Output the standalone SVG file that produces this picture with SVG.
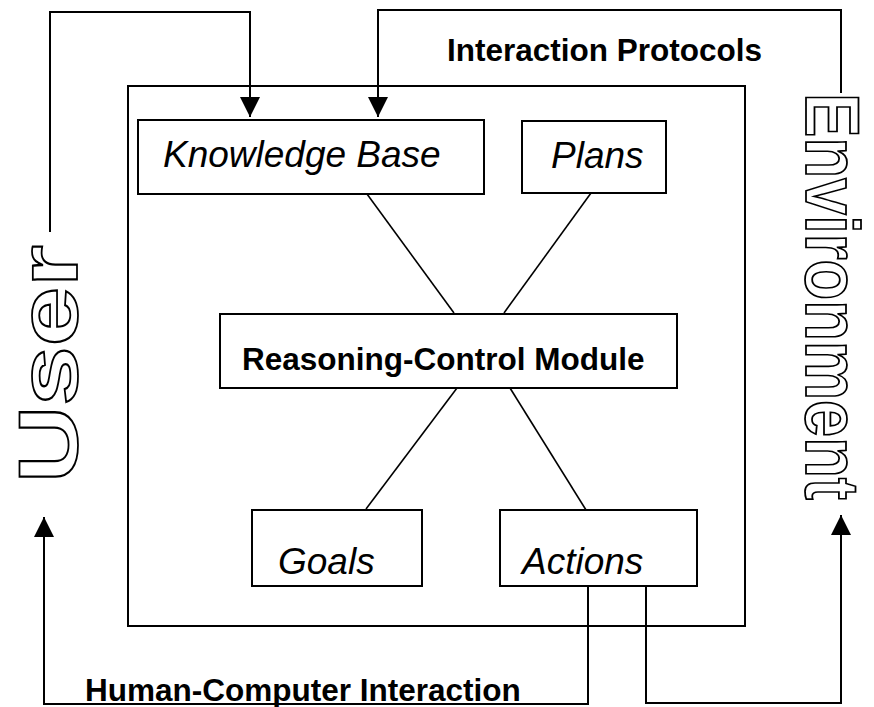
<svg xmlns="http://www.w3.org/2000/svg" width="874" height="707" viewBox="0 0 874 707">
<style>
.box{fill:#fff;stroke:#000;stroke-width:2}
.line{fill:none;stroke:#000;stroke-width:2}
.thin{fill:none;stroke:#000;stroke-width:1.6}
.lbl{font-family:"Liberation Sans",Arial,sans-serif;font-style:italic;font-size:37px;fill:#000}
.bold{font-family:"Liberation Sans",Arial,sans-serif;font-weight:bold;font-size:31.5px;fill:#000}
.wa{font-family:"Liberation Sans",Arial,sans-serif;font-weight:bold;fill:#fff;stroke:#000;stroke-width:1.8}
</style>
<defs>
<marker id="ah" viewBox="0 0 20 20" refX="20" refY="10" markerWidth="20" markerHeight="20" markerUnits="userSpaceOnUse" orient="auto">
<path d="M0,0 L20,10 L0,20 Z" fill="#000"/>
</marker>
</defs>
<rect width="874" height="707" fill="#fff"/>
<g id="agent"><rect class="box" x="128" y="86" width="617" height="540"/></g>
<g id="connectors">
<path class="thin" d="M367,194 L454,313"/>
<path class="thin" d="M591,193 L504,313"/>
<path class="thin" d="M457,388 L366,509"/>
<path class="thin" d="M510,388 L586,510"/>
<path class="line" d="M50,232 V12 H250 V117" marker-end="url(#ah)"/>
<path class="line" d="M841,93 V10 H378 V117" marker-end="url(#ah)"/>
<path class="line" d="M588,586 V704 H44 V517" marker-end="url(#ah)"/>
<path class="line" d="M646,583 V703 H841 V515" marker-end="url(#ah)"/>
</g>
<g id="kb"><rect class="box" x="138" y="120" width="346" height="74"/><text class="lbl" x="163" y="167">Knowledge Base</text></g>
<g id="plans"><rect class="box" x="522" y="121" width="144" height="72"/><text class="lbl" x="551" y="168">Plans</text></g>
<g id="rcm"><rect class="box" x="220" y="314" width="457" height="74"/><text class="bold" x="242" y="370">Reasoning-Control Module</text></g>
<g id="goals"><rect class="box" x="252" y="510" width="170" height="76"/><text class="lbl" x="278" y="574">Goals</text></g>
<g id="actions"><rect class="box" x="500" y="510" width="197" height="76"/><text class="lbl" x="522" y="574">Actions</text></g>
<g id="user"><text class="wa" font-size="84" transform="translate(77,483) rotate(-90)" textLength="238" lengthAdjust="spacingAndGlyphs">User</text></g>
<g id="environment"><text class="wa" font-size="76" transform="translate(806,93) rotate(90)" textLength="407" lengthAdjust="spacingAndGlyphs">Environment</text></g>
<text class="bold" x="447" y="61">Interaction Protocols</text>
<text class="bold" x="85" y="701">Human-Computer Interaction</text>
</svg>
